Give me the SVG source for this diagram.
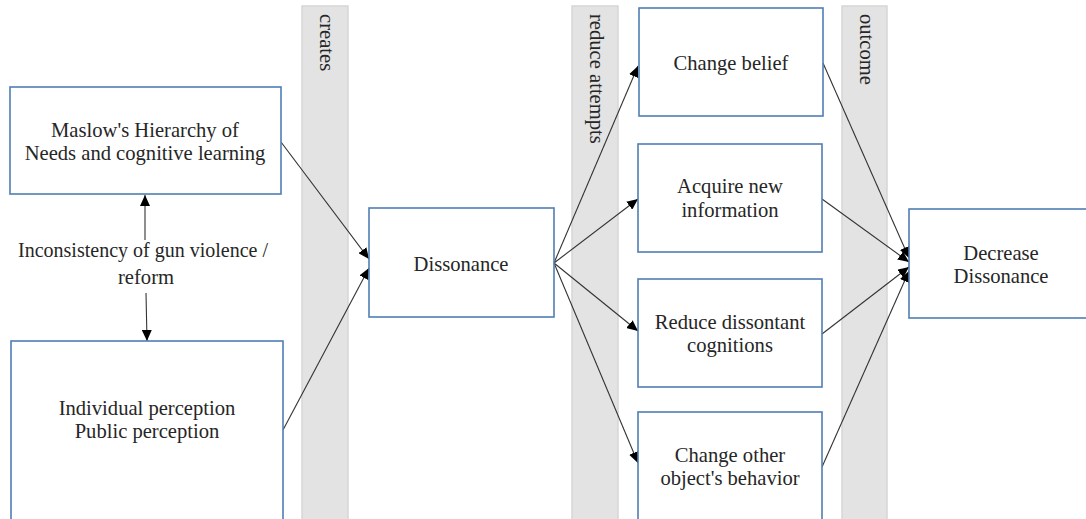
<svg xmlns="http://www.w3.org/2000/svg" width="1086" height="519" viewBox="0 0 1086 519">
<style>
.band{fill:#e3e3e3;stroke:#d6d6d6;stroke-width:1.5}
.box{fill:#fff;stroke:#4f7eb3;stroke-width:1.6}
.t{font-family:"Liberation Serif","Times New Roman",serif;font-size:20.6px;fill:#262626;text-anchor:middle}
.bl{font-family:"Liberation Serif","Times New Roman",serif;font-size:20.6px;fill:#262626;text-anchor:start}
.c{stroke:#333;stroke-width:1.1;fill:none;marker-end:url(#ah)}
</style>
<defs>
<marker id="ah" markerUnits="userSpaceOnUse" markerWidth="12" markerHeight="10" refX="11" refY="5" orient="auto">
<path d="M0,0 L11,5 L0,10 Z" fill="#000"/>
</marker>
</defs>
<rect width="1086" height="519" fill="#fff"/>
<g id="bands">
<rect class="band" x="302" y="6" width="46" height="520"/>
<rect class="band" x="572" y="6" width="46" height="520"/>
<rect class="band" x="842" y="6" width="45" height="520"/>
<text class="bl" transform="translate(320,14) rotate(90)">creates</text>
<text class="bl" transform="translate(590,14) rotate(90)">reduce attempts</text>
<text class="bl" transform="translate(860,14) rotate(90)">outcome</text>
</g>
<g id="connectors">
<line class="c" x1="281" y1="142" x2="369" y2="259"/>
<line class="c" x1="283" y1="430" x2="369" y2="268"/>
<line class="c" x1="145" y1="240" x2="145" y2="195"/>
<line class="c" x1="146" y1="293" x2="147" y2="341"/>
<line class="c" x1="554" y1="263" x2="638" y2="66"/>
<line class="c" x1="554" y1="263" x2="638" y2="199"/>
<line class="c" x1="554" y1="263" x2="638" y2="331"/>
<line class="c" x1="554" y1="263" x2="638" y2="463"/>
<line class="c" x1="823" y1="63" x2="909" y2="258"/>
<line class="c" x1="822" y1="199" x2="909" y2="262"/>
<line class="c" x1="822" y1="334" x2="909" y2="267"/>
<line class="c" x1="822" y1="467" x2="909" y2="271"/>
</g>
<g id="label-inconsistency">
<text class="t" x="143" y="257" style="font-size:20px">Inconsistency of gun violence /</text>
<text class="t" x="146" y="284">reform</text>
</g>
<g id="maslow">
<rect class="box" x="10" y="87" width="271" height="107"/>
<text class="t" x="145" y="137">Maslow's Hierarchy of</text>
<text class="t" x="145" y="160">Needs and cognitive learning</text>
</g>
<g id="perception">
<rect class="box" x="11" y="341" width="272" height="190"/>
<text class="t" x="147" y="415">Individual perception</text>
<text class="t" x="147" y="438">Public perception</text>
</g>
<g id="dissonance">
<rect class="box" x="369" y="208" width="185" height="109"/>
<text class="t" x="461" y="271">Dissonance</text>
</g>
<g id="change-belief">
<rect class="box" x="639" y="8" width="184" height="108"/>
<text class="t" x="731" y="70">Change belief</text>
</g>
<g id="acquire">
<rect class="box" x="638" y="144" width="184" height="108"/>
<text class="t" x="730" y="193">Acquire new</text>
<text class="t" x="730" y="217">information</text>
</g>
<g id="reduce">
<rect class="box" x="638" y="279" width="184" height="108"/>
<text class="t" x="730" y="329">Reduce dissontant</text>
<text class="t" x="730" y="352">cognitions</text>
</g>
<g id="change-other">
<rect class="box" x="638" y="412" width="184" height="120"/>
<text class="t" x="730" y="462">Change other</text>
<text class="t" x="730" y="485">object's behavior</text>
</g>
<g id="decrease">
<rect class="box" x="909" y="209" width="190" height="109"/>
<text class="t" x="1001" y="260">Decrease</text>
<text class="t" x="1001" y="283">Dissonance</text>
</g>
</svg>
